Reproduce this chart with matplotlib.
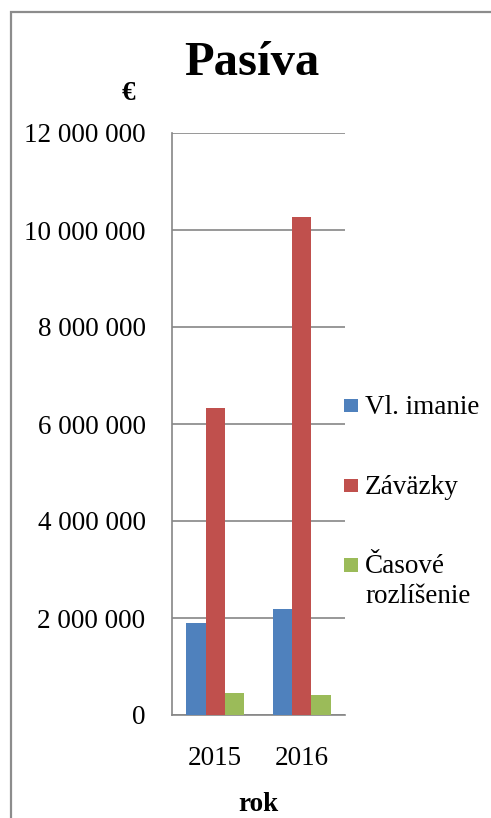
import matplotlib
matplotlib.use("Agg")
import matplotlib.pyplot as plt
import numpy as np
from matplotlib.patches import Rectangle

# data
years = ["2015", "2016"]
series_names = ["Vl. imanie", "Záväzky", "Časové\nrozlíšenie"]
vl_imanie = [1890000, 2180000]
zavazky = [6340000, 10260000]
casove_rozlisenie = [460000, 420000]
y_ticks = [0, 2000000, 4000000, 6000000, 8000000, 10000000, 12000000]

colors = ["#4F81BD", "#C0504D", "#9BBB59"]
values = [vl_imanie, zavazky, casove_rozlisenie]

plt.rcParams["font.family"] = ["Liberation Serif", "DejaVu Serif"]
plt.rcParams["font.size"] = 19.5

W, H = 491, 818
fig = plt.figure(figsize=(W / 100, H / 100), dpi=100)


def fx(px):
    return px / W


def fy(py):
    return 1 - py / H


# outer chart frame (cut off at right/bottom like the reference)
fig.patches.append(Rectangle((fx(11), fy(H + 20)), 1.2, fy(12) - fy(H + 20),
                             transform=fig.transFigure, fill=False,
                             edgecolor="#8c8c8c", linewidth=1.6))

ax = fig.add_axes([fx(172), fy(715), fx(345) - fx(172), fy(133) - fy(715)])

x = np.arange(len(years))
bar_width = 0.222
for i, (vals, col) in enumerate(zip(values, colors)):
    ax.bar(x + (i - 1) * bar_width, vals, width=bar_width, color=col,
           edgecolor="none", zorder=3)

ax.set_xlim(-0.5, len(years) - 0.5)
ax.set_ylim(0, 12000000)
ax.set_yticks(y_ticks)
ax.set_yticklabels([f"{v:,.0f}".replace(",", " ") for v in y_ticks])
ax.set_xticks(x)
ax.set_xticklabels(years)
ax.yaxis.grid(True, color="#868686", linewidth=1.2, zorder=0)
ax.tick_params(axis="y", length=0, pad=19)
ax.tick_params(axis="x", length=0, pad=22)
for side in ["top", "right"]:
    ax.spines[side].set_visible(False)
ax.spines["left"].set_color("#868686")
ax.spines["bottom"].set_color("#868686")
ax.spines["left"].set_linewidth(1.2)
ax.spines["bottom"].set_linewidth(1.2)

# titles
fig.text(fx(252), fy(75), "Pasíva", fontsize=35, fontweight="bold",
         ha="center", va="baseline")
fig.text(fx(128), fy(100), "€", fontweight="bold", ha="center", va="baseline")
fig.text(fx(258), fy(811), "rok", fontweight="bold", ha="center", va="baseline")

# legend drawn by hand so the square sits next to the first text line
for i, (name, col) in enumerate(zip(series_names, colors)):
    top = 399 + i * 79.5
    fig.patches.append(Rectangle((fx(344), fy(top + 13.5)), fx(14), fy(top) - fy(top + 13.5),
                                 transform=fig.transFigure, facecolor=col,
                                 edgecolor="none"))
    for j, line in enumerate(name.split("\n")):
        fig.text(fx(365), fy(top + 15 + j * 30), line, ha="left", va="baseline")

fig.savefig("out.png", dpi=100)
